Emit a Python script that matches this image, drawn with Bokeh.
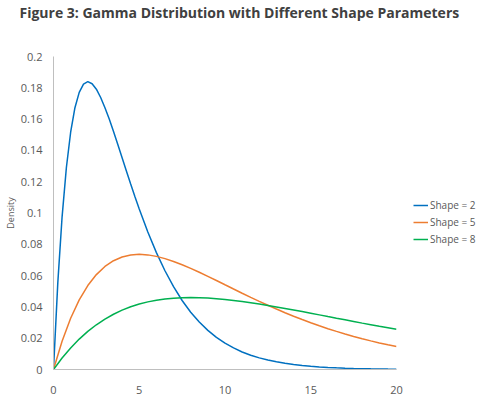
from bokeh.plotting import figure
from bokeh.models import (ColumnDataSource, Legend, LegendItem, FixedTicker,
                          CustomJSTickFormatter, Range1d, Title)
from bokeh.embed import file_html
from bokeh.resources import INLINE

x = [i * 0.5 for i in range(41)]
x_shape2 = [i * 0.25 for i in range(20)] + [5 + i * 0.5 for i in range(31)]
shape2 = [0, 0.0552, 0.0974, 0.1289, 0.1516, 0.1673, 0.1771, 0.1824, 0.1839, 0.1826,
          0.1791, 0.1738, 0.1673, 0.1600, 0.1521, 0.1438, 0.1353, 0.1269, 0.1186, 0.1104,
          0.1026, 0.0879, 0.0747, 0.0631, 0.0529, 0.0441, 0.0366, 0.0303, 0.0250, 0.0205,
          0.0168, 0.0138, 0.0112, 0.00915, 0.00744, 0.00603, 0.00489, 0.00395, 0.00319,
          0.00257, 0.00207, 0.00167, 0.00134, 0.00108, 0.00086, 0.00069, 0.00055, 0.00044,
          0.00036, 0.00028, 0.00023]
shape5 = [0, 0.0181, 0.03275, 0.04445, 0.05363, 0.06065, 0.06586, 0.06952, 0.07189, 0.07319,
          0.07358, 0.07324, 0.07229, 0.07085, 0.06905, 0.06694, 0.0646, 0.06211, 0.05951,
          0.05684, 0.05413, 0.05143, 0.04875, 0.04613, 0.04355, 0.04104, 0.03862, 0.03629,
          0.03405, 0.03191, 0.02987, 0.02793, 0.02609, 0.02435, 0.0227, 0.02114, 0.01967,
          0.01829, 0.017, 0.01579, 0.01465]
shape8 = [0, 0.00734, 0.01379, 0.01943, 0.02434, 0.02858, 0.03222, 0.03531, 0.03791, 0.04006,
          0.04182, 0.04321, 0.04429, 0.04506, 0.0456, 0.04589, 0.04599, 0.0459, 0.04566,
          0.04527, 0.04477, 0.04415, 0.04345, 0.04268, 0.04183, 0.04094, 0.04, 0.03902,
          0.03802, 0.037, 0.03595, 0.0349, 0.03383, 0.03277, 0.03172, 0.03068, 0.02964,
          0.02862, 0.02761, 0.02663, 0.02565]
labels = ["Shape = 2", "Shape = 5", "Shape = 8"]
colors = ["#0070C0", "#ED7D31", "#00B050"]
x_ticks = [0, 5, 10, 15, 20]
y_ticks = [0, 0.02, 0.04, 0.06, 0.08, 0.1, 0.12, 0.14, 0.16, 0.18, 0.2]

p = figure(frame_width=343, frame_height=313, output_backend="svg", toolbar_location=None,
           x_range=Range1d(0, 20), y_range=Range1d(0, 0.2),
           min_border_left=47, min_border_right=87, min_border_top=0, min_border_bottom=22)
p.outline_line_color = None
p.grid.visible = False

# spacer between title and plot area
spacer = Title(text=" ", text_font_size="1px", standoff=28, vertical_align="bottom")
p.add_layout(spacer, "above")
title = Title(text="Figure 3: Gamma Distribution with Different Shape Parameters",
              text_font="Open Sans", text_font_size="14px", text_font_style="bold",
              text_color="#404040", align="left", offset=-34, standoff=4,
              vertical_align="top")
p.add_layout(title, "above")

series = [(x_shape2, shape2), (x, shape5), (x, shape8)]
items = []
for (xs, ys), lab, col in zip(series, labels, colors):
    src = ColumnDataSource(dict(x=xs, y=ys))
    r = p.line("x", "y", source=src, line_color=col, line_width=1.5)
    items.append(LegendItem(label=lab, renderers=[r]))

for ax in (p.xaxis[0], p.yaxis[0]):
    ax.axis_line_color = "#BFBFBF"
    ax.major_tick_line_color = None
    ax.minor_tick_line_color = None
    ax.major_label_text_color = "#595959"
    ax.major_label_text_font = "Open Sans"
    ax.major_label_text_font_size = "11px"

p.xaxis[0].ticker = FixedTicker(ticks=x_ticks)
p.yaxis[0].ticker = FixedTicker(ticks=y_ticks)
p.yaxis[0].formatter = CustomJSTickFormatter(
    code="return tick.toFixed(2).replace(/0+$/,'').replace(/\\.$/,'');")
p.xaxis[0].major_label_standoff = 10
p.yaxis[0].major_label_standoff = 5
p.yaxis[0].axis_label = "Density"
p.yaxis[0].axis_label_text_font = "Open Sans"
p.yaxis[0].axis_label_text_font_size = "9px"
p.yaxis[0].axis_label_text_font_style = "normal"
p.yaxis[0].axis_label_text_color = "#595959"
p.yaxis[0].axis_label_standoff = 1

legend = Legend(items=items, location=(17, 123), border_line_color=None,
                background_fill_alpha=0, label_text_font="Open Sans",
                label_text_font_size="10px", label_text_color="#595959",
                glyph_width=15, glyph_height=10, spacing=3, padding=0, margin=0,
                label_standoff=2)
p.add_layout(legend, "right")

open("out.html", "w").write(file_html(p, INLINE))
